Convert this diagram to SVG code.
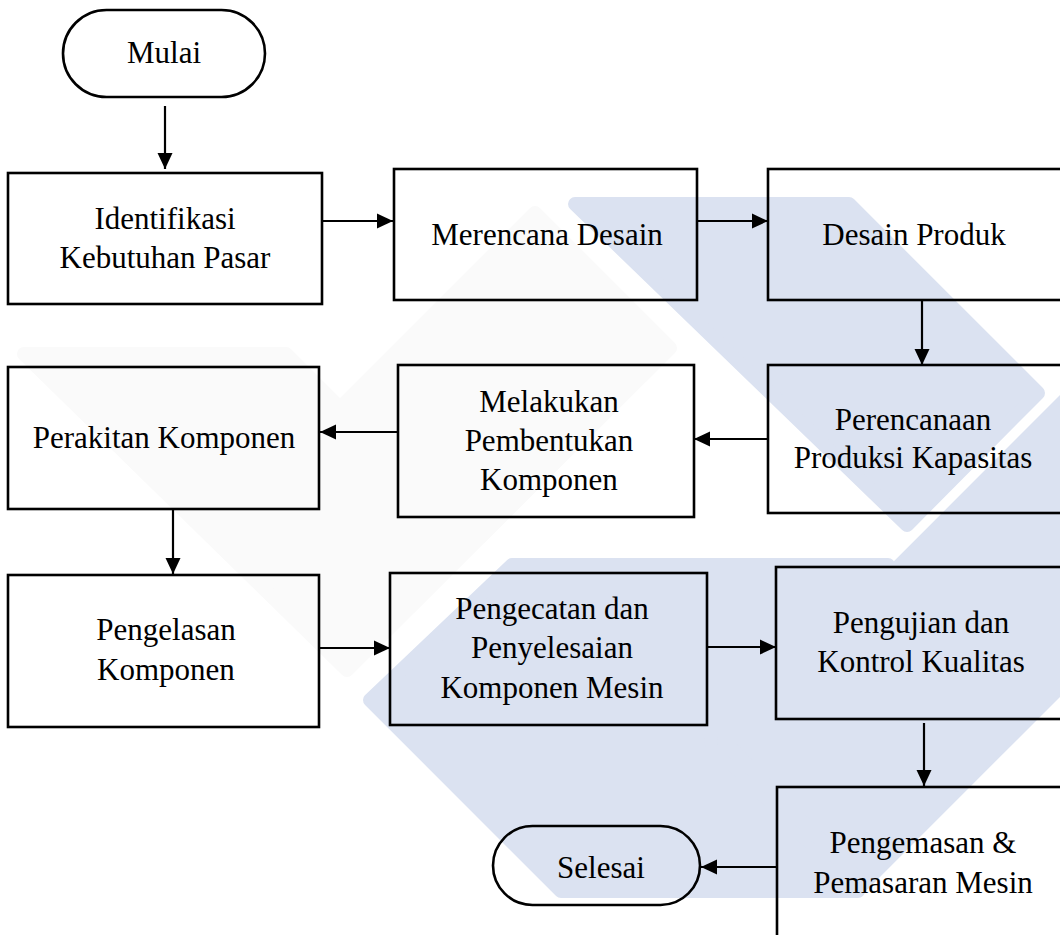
<svg xmlns="http://www.w3.org/2000/svg" width="1060" height="935" viewBox="0 0 1060 935">
  <defs>
    <style>
      .box { fill: none; stroke: #000; stroke-width: 2.6; }
      .term { fill: none; stroke: #000; stroke-width: 2.6; }
      .lbl { font-family: 'Liberation Serif', 'DejaVu Serif', serif; font-size: 31px; fill: #000; text-anchor: middle; }
      .conn { stroke: #000; stroke-width: 2.2; fill: none; marker-end: url(#arrow); }
      .wm-blue { fill: #dbe2f1; stroke: #dbe2f1; stroke-width: 14; stroke-linejoin: round; }
      .wm-grey { fill: #fafafa; stroke: #fafafa; stroke-width: 14; stroke-linejoin: round; }
    </style>
    <marker id="arrow" markerUnits="userSpaceOnUse" markerWidth="17" markerHeight="17" viewBox="0 0 17 17" refX="16" refY="8.5" orient="auto">
      <path d="M0,1 L16,8.5 L0,16 Z" fill="#000"/>
    </marker>
  </defs>

  <rect width="1060" height="935" fill="#fff"/>

  <!-- background emblem -->
  <g id="emblem">
    <polygon class="wm-grey" points="24,354 286,354 340,408 535,213 670,348 347,670"/>
    <polygon class="wm-blue" points="575,204 849,204 1038,393 907,525"/>
    <polygon class="wm-blue" points="512,565 888,565 711,742 858,891 561,891 370,700"/>
    <polygon class="wm-blue" points="724,741 1080,385 1080,667 863,884"/>
  </g>

  <!-- connectors -->
  <g id="connectors">
    <line class="conn" x1="165" y1="106" x2="165" y2="169"/>
    <line class="conn" x1="322" y1="221" x2="393" y2="221"/>
    <line class="conn" x1="697" y1="221" x2="768" y2="221"/>
    <line class="conn" x1="922" y1="300" x2="922" y2="365"/>
    <line class="conn" x1="768" y1="439" x2="694" y2="439"/>
    <line class="conn" x1="398" y1="432" x2="320" y2="432"/>
    <line class="conn" x1="173" y1="509" x2="173" y2="574"/>
    <line class="conn" x1="319" y1="648" x2="390" y2="648"/>
    <line class="conn" x1="707" y1="647" x2="776" y2="647"/>
    <line class="conn" x1="924" y1="723" x2="924" y2="786"/>
    <line class="conn" x1="777" y1="867" x2="701" y2="867"/>
  </g>

  <g id="mulai">
    <rect class="term" x="63" y="10" width="202" height="87" rx="43.5"/>
    <text class="lbl" x="164" y="63">Mulai</text>
  </g>

  <g id="identifikasi">
    <rect class="box" x="8" y="173" width="314" height="131"/>
    <text class="lbl" x="165" y="229">Identifikasi</text>
    <text class="lbl" x="165" y="268">Kebutuhan Pasar</text>
  </g>

  <g id="merencana">
    <rect class="box" x="394" y="169" width="303" height="131"/>
    <text class="lbl" x="547" y="245">Merencana Desain</text>
  </g>

  <g id="desain-produk">
    <rect class="box" x="768" y="169" width="310" height="131"/>
    <text class="lbl" x="914" y="245">Desain Produk</text>
  </g>

  <g id="perencanaan">
    <rect class="box" x="768" y="365" width="310" height="148"/>
    <text class="lbl" x="913" y="430">Perencanaan</text>
    <text class="lbl" x="913" y="468">Produksi Kapasitas</text>
  </g>

  <g id="pembentukan">
    <rect class="box" x="398" y="365" width="296" height="152"/>
    <text class="lbl" x="549" y="412">Melakukan</text>
    <text class="lbl" x="549" y="451">Pembentukan</text>
    <text class="lbl" x="549" y="490">Komponen</text>
  </g>

  <g id="perakitan">
    <rect class="box" x="8" y="367" width="311" height="142"/>
    <text class="lbl" x="164" y="448">Perakitan Komponen</text>
  </g>

  <g id="pengelasan">
    <rect class="box" x="8" y="575" width="311" height="152"/>
    <text class="lbl" x="166" y="640">Pengelasan</text>
    <text class="lbl" x="166" y="680">Komponen</text>
  </g>

  <g id="pengecatan">
    <rect class="box" x="390" y="573" width="317" height="152"/>
    <text class="lbl" x="552" y="619">Pengecatan dan</text>
    <text class="lbl" x="552" y="658">Penyelesaian</text>
    <text class="lbl" x="552" y="698">Komponen Mesin</text>
  </g>

  <g id="pengujian">
    <rect class="box" x="776" y="567" width="302" height="152"/>
    <text class="lbl" x="921" y="633">Pengujian dan</text>
    <text class="lbl" x="921" y="672">Kontrol Kualitas</text>
  </g>

  <g id="pengemasan">
    <rect class="box" x="777" y="787" width="301" height="170"/>
    <text class="lbl" x="923" y="853">Pengemasan &amp;</text>
    <text class="lbl" x="923" y="893">Pemasaran Mesin</text>
  </g>

  <g id="selesai">
    <rect class="term" x="493" y="826" width="207" height="79" rx="39.5"/>
    <text class="lbl" x="601" y="878">Selesai</text>
  </g>
</svg>
